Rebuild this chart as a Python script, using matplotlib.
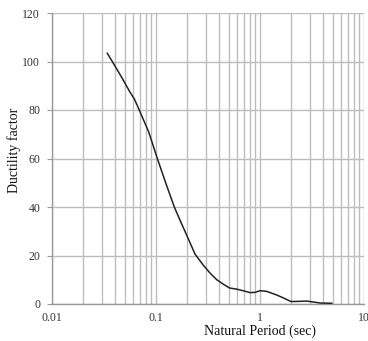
import matplotlib
matplotlib.use("Agg")
import matplotlib.pyplot as plt
from matplotlib.ticker import NullFormatter, LogLocator

period = [0.034, 0.038, 0.046, 0.056, 0.062, 0.069, 0.085, 0.103, 0.125, 0.15, 0.17, 0.20,
          0.237, 0.284, 0.33, 0.384, 0.45, 0.51, 0.60, 0.70, 0.80, 0.90, 1.0, 1.16,
          1.45, 1.7, 1.94, 2.0, 2.4, 2.81, 3.3, 3.78, 4.9]
ductility = [103.4, 100.0, 94.0, 87.5, 84.5, 80.0, 71.0, 60.0, 49.5, 40.0, 34.6, 27.8,
             20.6, 16.1, 12.8, 10.0, 8.0, 6.6, 6.1, 5.4, 4.7, 4.8, 5.5, 5.2,
             3.7, 2.4, 1.2, 1.0, 1.1, 1.2, 0.8, 0.4, 0.3]

xticks = [0.01, 0.1, 1, 10]
xticklabels = ["0.01", "0.1", "1", "10"]
yticks = [0, 20, 40, 60, 80, 100, 120]

plt.rcParams['font.family'] = ['Liberation Serif', 'DejaVu Serif']

fig = plt.figure(figsize=(3.68, 3.41), dpi=100)
ax = fig.add_axes([52/368, 1 - 304/341, (364 - 52)/368, (304 - 13)/341])

ax.plot(period, ductility, color="#222222", lw=1.1, zorder=3)

ax.set_xscale("log")
ax.set_xlim(0.01, 10)
ax.set_ylim(0, 120)
ax.set_xticks(xticks)
ax.set_xticklabels(xticklabels)
ax.xaxis.set_minor_locator(LogLocator(base=10, subs=range(2, 10)))
ax.xaxis.set_minor_formatter(NullFormatter())
ax.set_yticks(yticks)

gc = "#bdbdbd"
ax.grid(True, which="major", axis="both", color=gc, lw=1.0)
ax.grid(True, which="minor", axis="x", color=gc, lw=1.0)
ax.set_axisbelow(True)

for s in ["top", "right"]:
    ax.spines[s].set_visible(False)
for s in ["left", "bottom"]:
    ax.spines[s].set_color("#999999")
    ax.spines[s].set_linewidth(1.0)

ax.tick_params(axis="y", which="major", length=3.5, color="#999999", labelsize=8.5,
               labelcolor="#333333", pad=5)
ax.tick_params(axis="x", which="both", length=0, labelsize=8.5, labelcolor="#333333", pad=6)

fig.text(260/368, 1 - 331/341, "Natural Period (sec)", ha="center", va="center",
         fontsize=10, color="#111111")
fig.text(14/368, 1 - 150/341, "Ductility factor", ha="center", va="center",
         rotation=90, fontsize=10, color="#111111")

fig.savefig("out.png", dpi=100)
